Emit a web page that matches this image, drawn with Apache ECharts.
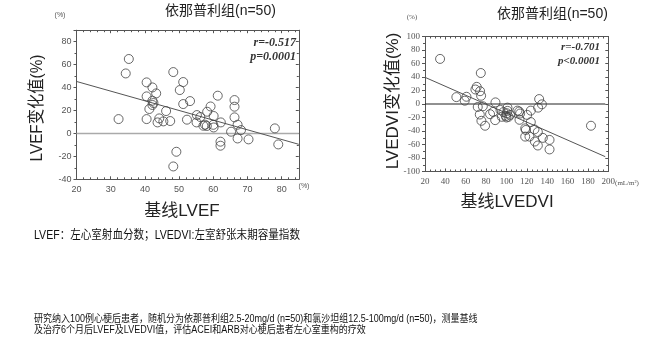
<!DOCTYPE html>
<html><head><meta charset="utf-8">
<script src="https://cdn.jsdelivr.net/npm/echarts@6/dist/echarts.min.js"></script>
<style>html,body{margin:0;padding:0;background:#fff}#c{width:647px;height:347px}</style>
</head><body><div id="c"></div>
<script>
// ---- Data ----
const lvefBase   = [32.3,34.4,35.3,40.5,40.5,40.5,42.2,43.3,42.2,42.2,41.3,44.2,43.7,45.4,46.2,47.4,48.3,51.2,50.2,51.2,53.2,52.3,49.2,48.3,55.2,56.2,55.1,58.2,59.2,60.1,61.3,57.1,57.6,58.1,60.1,62.2,62.1,62.1,66.2,66.2,66.2,65.2,67.1,68.1,67.1,70.3,78.0,79.0,60.0,42.5];
const lvefChange = [12.5,52.3,64.9,44.5,32.3,12.5,40.1,34.9,28.5,24.8,21.3,13.1,9.6,10.5,19.5,10.8,53.5,44.8,37.8,25.6,28.2,12.0,-16.0,-28.8,16.0,14.3,9.6,18.9,23.5,15.2,32.9,6.7,7.6,6.5,5.2,9.6,-7.2,-10.7,29.1,23.3,14.0,1.5,7.6,2.9,-4.4,-5.2,4.4,-9.6,7.5,26.5];
const lvefFitX = [20, 85];
const lvefFitY = [45.3, -9.5];
const lvefZeroX = [20, 85];

const lvediBase   = [34.8,50.8,60.7,59.0,69.5,70.8,74.8,74.1,75.1,71.8,76.8,73.8,75.4,79.0,83.9,86.9,89.2,88.9,94.1,95.4,101.0,101.0,100.3,102.0,99.3,103.6,110.8,112.5,113.4,112.8,120.3,123.9,131.1,132.1,134.8,123.9,118.4,119.0,118.4,122.6,127.5,127.9,130.8,130.8,135.7,142.3,142.3,183.0,97.0,100.0];
const lvediChange = [66.8,10.2,10.7,4.9,21.5,25.4,45.9,19.0,12.2,-4.4,-3.4,-15.6,-24.9,-32.2,-15.1,-11.7,2.4,-23.9,-8.8,-19.0,-5.4,-10.2,-13.7,-19.0,-17.6,-16.1,-9.8,-11.2,-14.1,-23.4,-16.1,-9.8,-5.4,7.3,-0.5,-26.8,-36.1,-38.5,-48.3,-48.3,-37.6,-55.6,-41.5,-61.5,-50.2,-53.2,-67.3,-32.2,-12.0,-20.0];
const lvediFitX = [20, 197];
const lvediFitY = [39.5, -78];
const lvediZeroX = [20, 197];

const lvefXTicks = {min: 20, max: 85, step: 10};
const lvefYTicks = {min: -40, max: 90, step: 20};
const lvediXTicks = {min: 20, max: 200, step: 20};
const lvediYTicks = {min: -100, max: 100, step: 20};

const titles = ['依那普利组(n=50)', '依那普利组(n=50)'];
const yNames = ['LVEF变化值(%)', 'LVEDVI变化值(%)'];
const xNames = ['基线LVEF', '基线LVEDVI'];
const stats = [['r=-0.517', 'p=0.0001'], ['r=-0.701', 'p<0.0001']];
const note1 = 'LVEF：左心室射血分数；LVEDVI:左室舒张末期容量指数';
const note2 = '研究纳入100例心梗后患者，随机分为依那普利组2.5-20mg/d (n=50)和氯沙坦组12.5-100mg/d (n=50)，测量基线';
const note3 = '及治疗6个月后LVEF及LVEDVI值，评估ACEI和ARB对心梗后患者左心室重构的疗效';

// ---- Build ----
const zip = (a, b) => a.map((v, i) => [v, b[i]]);
const frameColor = '#555';
function mkX(gi, t, pos, showLabel, font, minorSplit) {
  return {
    type: 'value', gridIndex: gi, position: pos, min: t.min, max: t.max, interval: t.step,
    axisLine: {show: true, onZero: false, lineStyle: {color: frameColor, width: 1}},
    axisTick: {show: true, inside: true, length: 3, lineStyle: {color: frameColor}},
    minorTick: {show: true, splitNumber: minorSplit, length: 2, lineStyle: {color: frameColor}},
    splitLine: {show: false},
    axisLabel: {show: showLabel, fontSize: 9, color: '#555', fontFamily: font, margin: 6,
      formatter: v => ((v - t.min) % t.step === 0 ? String(v) : '')}
  };
}
function mkY(gi, t, pos, showLabel, font, minorSplit) {
  return {
    type: 'value', gridIndex: gi, position: pos, min: t.min, max: t.max, interval: t.step,
    axisLine: {show: true, onZero: false, lineStyle: {color: frameColor, width: 1}},
    axisTick: {show: true, inside: pos === 'right', length: 3, lineStyle: {color: frameColor}},
    minorTick: {show: true, splitNumber: minorSplit, length: 2, lineStyle: {color: frameColor}},
    splitLine: {show: false},
    axisLabel: {show: showLabel, fontSize: 9, color: '#555', fontFamily: font, margin: 5,
      formatter: v => ((v - t.min) % t.step === 0 ? String(v) : '')}
  };
}
const sans = 'Liberation Sans, Arial, sans-serif';
const serif = 'Liberation Serif, Times New Roman, serif';
const cjk = '"Liberation Sans", "Noto Sans CJK SC", sans-serif';

const scatterStyle = {color: 'rgba(0,0,0,0)', borderColor: '#444', borderWidth: 1};

const option = {
  animation: false,
  backgroundColor: '#fff',
  grid: [
    {left: 76.5, top: 30.2, width: 222.3, height: 149.1},
    {left: 425, top: 36.5, width: 183.3, height: 135}
  ],
  xAxis: [
    mkX(0, lvefXTicks, 'bottom', true, sans, 5),
    mkX(0, lvefXTicks, 'top', false, sans, 5),
    mkX(1, lvediXTicks, 'bottom', true, serif, 4),
    mkX(1, lvediXTicks, 'top', false, serif, 4)
  ],
  yAxis: [
    mkY(0, lvefYTicks, 'left', true, sans, 2),
    mkY(0, lvefYTicks, 'right', false, sans, 2),
    mkY(1, lvediYTicks, 'left', true, serif, 2),
    mkY(1, lvediYTicks, 'right', false, serif, 2)
  ],
  series: [
    {type: 'line', xAxisIndex: 0, yAxisIndex: 0, data: zip(lvefZeroX, [0, 0]),
      symbol: 'none', lineStyle: {color: '#aaa', width: 1.5}, silent: true, z: 1},
    {type: 'line', xAxisIndex: 0, yAxisIndex: 0, data: zip(lvefFitX, lvefFitY),
      symbol: 'none', lineStyle: {color: '#555', width: 1}, silent: true, z: 2},
    {type: 'scatter', xAxisIndex: 0, yAxisIndex: 0, data: zip(lvefBase, lvefChange),
      symbol: 'circle', symbolSize: 9, itemStyle: scatterStyle, z: 3},
    {type: 'line', xAxisIndex: 2, yAxisIndex: 2, data: zip(lvediZeroX, [0, 0]),
      symbol: 'none', lineStyle: {color: '#222', width: 1}, silent: true, z: 1},
    {type: 'line', xAxisIndex: 2, yAxisIndex: 2, data: zip(lvediFitX, lvediFitY),
      symbol: 'none', lineStyle: {color: '#555', width: 1}, silent: true, z: 2},
    {type: 'scatter', xAxisIndex: 2, yAxisIndex: 2, data: zip(lvediBase, lvediChange),
      symbol: 'circle', symbolSize: 9, itemStyle: scatterStyle, z: 3}
  ],
  graphic: [
    {type: 'text', left: 165, top: 4, style: {text: titles[0], font: '14px ' + cjk, fill: '#222'}},
    {type: 'text', left: 497, top: 7, style: {text: titles[1], font: '14px ' + cjk, fill: '#222'}},
    {type: 'text', x: 37, y: 108, rotation: Math.PI / 2, scaleX: 0.9, style: {text: yNames[0], font: '17px ' + cjk, fill: '#222', align: 'center', verticalAlign: 'middle'}},
    {type: 'text', x: 393, y: 101, rotation: Math.PI / 2, style: {text: yNames[1], font: '17px ' + cjk, fill: '#222', align: 'center', verticalAlign: 'middle'}},
    {type: 'text', x: 182, y: 211, style: {text: xNames[0], font: '17px ' + cjk, fill: '#222', align: 'center', verticalAlign: 'middle'}},
    {type: 'text', x: 507, y: 202, style: {text: xNames[1], font: '17px ' + cjk, fill: '#222', align: 'center', verticalAlign: 'middle'}},
    {type: 'text', x: 296, y: 43, style: {text: stats[0][0], font: 'italic bold 12px ' + serif, fill: '#333', align: 'right', verticalAlign: 'middle'}},
    {type: 'text', x: 296, y: 57, style: {text: stats[0][1], font: 'italic bold 12px ' + serif, fill: '#333', align: 'right', verticalAlign: 'middle'}},
    {type: 'text', x: 600, y: 47, style: {text: stats[1][0], font: 'italic bold 11px ' + serif, fill: '#333', align: 'right', verticalAlign: 'middle'}},
    {type: 'text', x: 600, y: 61, style: {text: stats[1][1], font: 'italic bold 11px ' + serif, fill: '#333', align: 'right', verticalAlign: 'middle'}},
    {type: 'text', x: 60, y: 15, style: {text: '(%)', font: '7px ' + sans, fill: '#555', align: 'center', verticalAlign: 'middle'}},
    {type: 'text', x: 412, y: 17, style: {text: '(%)', font: '7px ' + serif, fill: '#555', align: 'center', verticalAlign: 'middle'}},
    {type: 'text', x: 304, y: 186, style: {text: '(%)', font: '7px ' + sans, fill: '#555', align: 'center', verticalAlign: 'middle'}},
    {type: 'text', x: 627, y: 183, style: {text: '(mL/m²)', font: '7px ' + serif, fill: '#555', align: 'center', verticalAlign: 'middle'}},
    {type: 'text', x: 34, y: 236, scaleX: 0.88, style: {text: note1, font: '12px ' + cjk, fill: '#111', verticalAlign: 'middle'}},
    {type: 'text', x: 34, y: 319, scaleX: 0.9, style: {text: note2, font: '10px ' + cjk, fill: '#111', verticalAlign: 'middle'}},
    {type: 'text', x: 34, y: 330, scaleX: 0.9, style: {text: note3, font: '10px ' + cjk, fill: '#111', verticalAlign: 'middle'}}
  ]
};
const chart = echarts.init(document.getElementById('c'), null, {renderer: 'canvas'});
chart.setOption(option);
</script></body></html>
